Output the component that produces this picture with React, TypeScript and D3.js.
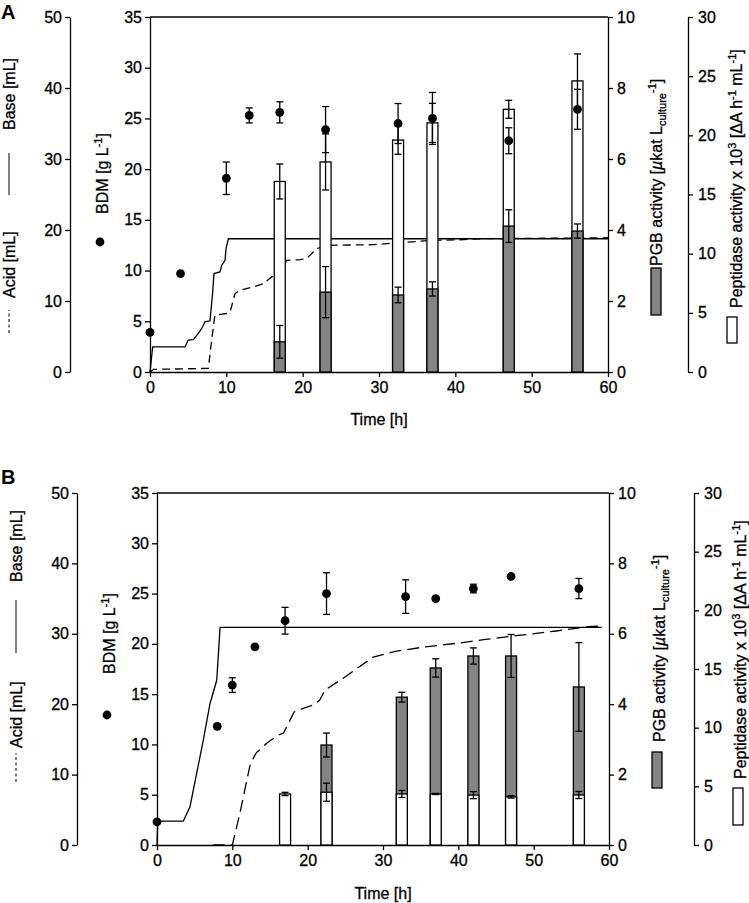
import { useEffect, useRef } from "react";
import * as d3 from "d3";

const FONT = "'Liberation Sans', Arial, Helvetica, sans-serif";
const FS = 16;

type Pt = [number, number];

const TIME_TICKS = [0, 10, 20, 30, 40, 50, 60];
const BDM_TICKS = [0, 5, 10, 15, 20, 25, 30, 35];
const ML_TICKS = [0, 10, 20, 30, 40, 50];
const PGB_TICKS = [0, 2, 4, 6, 8, 10];
const PEP_TICKS = [0, 5, 10, 15, 20, 25, 30];

// ---- Panel A ----
const A_BDM_TIME = [0, 4, 10, 13, 17, 23, 32.5, 37, 47, 56];
const A_BDM = [3.9, 9.7, 19.1, 25.3, 25.6, 23.9, 24.5, 25.0, 22.8, 25.9];
const A_BDM_SD = [0, 0, 1.6, 0.74, 1.04, 2.27, 1.97, 2.56, 1.28, 1.97];
const A_BAR_TIME = [17, 23, 32.5, 37, 47, 56];
const A_PGB = [0.85, 2.25, 2.17, 2.34, 4.11, 3.97];
const A_PGB_SD = [0.46, 0.72, 0.22, 0.2, 0.46, 0.2];
const A_PEP = [16.1, 17.75, 19.6, 21.05, 22.2, 24.6];
const A_PEP_SD = [1.48, 2.37, 1.2, 1.65, 0.76, 2.28];
const A_BASE: Pt[] = [
  [0, 0], [0.35, 3.55], [4.59, 3.55], [5.0, 4.5], [5.68, 4.57], [6.33, 5.43],
  [6.77, 6.13], [7.2, 7.07], [7.86, 7.21], [8.2, 11.05], [8.38, 13.86],
  [9.17, 14.09], [9.39, 15.03], [9.83, 15.73], [9.96, 17.37], [10.27, 18.77],
  [60, 18.77],
];
const A_ACID: Pt[] = [
  [0, 0], [0.44, 0.37], [7.64, 0.51], [8.08, 4.5], [8.5, 8.0], [10.0, 8.24],
  [10.5, 8.47], [11.14, 11.05], [11.8, 11.5], [13.5, 11.98], [14.85, 12.45],
  [15.94, 13.39], [17.03, 13.86], [17.9, 15.73], [19.65, 15.82], [20.5, 15.96],
  [21.84, 17.37], [23.15, 17.84], [29.3, 17.93], [31.9, 18.16], [37.1, 18.54],
  [40.6, 18.63], [43.7, 18.77], [60, 18.91],
];

// ---- Panel B ----
const B_BDM_TIME = [0, 8, 10, 13, 17, 22.5, 33, 37, 42, 47, 56];
const B_BDM = [2.3, 11.8, 15.9, 19.7, 22.3, 25.0, 24.7, 24.5, 25.5, 26.7, 25.5];
const B_BDM_SD = [0, 0, 0.73, 0, 1.33, 2.07, 1.67, 0, 0.43, 0, 1.0];
const B_BAR_TIME = [17, 22.5, 32.5, 37, 42, 47, 56];
const B_PGB = [0, 2.84, 4.2, 5.03, 5.37, 5.37, 4.49];
const B_PGB_SD = [0, 0.34, 0.14, 0.26, 0.23, 0.61, 1.26];
const B_PEP = [4.35, 4.5, 4.35, 4.35, 4.25, 4.1, 4.26];
const B_PEP_SD = [0.14, 0.77, 0.3, 0.05, 0.3, 0.1, 0.3];
const B_BASE: Pt[] = [
  [0, 0], [0.1, 3.4], [3.5, 3.4], [4.38, 5.44], [5.27, 10.2], [6.15, 14.9],
  [7.04, 20.1], [7.93, 23.4], [8.37, 30.9], [59.05, 30.9],
];
const B_ACID: Pt[] = [
  [7.4, 0], [10.0, 0], [11.0, 4.5], [12.4, 11.6], [13.2, 13.1], [14.6, 14.5],
  [16.1, 15.6], [16.8, 15.9], [18.2, 18.9], [19.4, 19.4], [20.8, 19.9],
  [21.6, 20.6], [22.3, 22.0], [25.0, 23.9], [28.7, 26.7], [31.6, 27.5],
  [35.3, 28.1], [40.2, 28.7], [43.6, 29.2], [48.3, 29.8], [53.0, 30.4],
  [57.2, 31.0], [59.05, 31.1],
];

const PANEL_A = {
  bdmTime: A_BDM_TIME, bdm: A_BDM, bdmSd: A_BDM_SD,
  barTime: A_BAR_TIME, pgb: A_PGB, pgbSd: A_PGB_SD, pep: A_PEP, pepSd: A_PEP_SD,
  base: A_BASE, acid: A_ACID,
};
const PANEL_B = {
  bdmTime: B_BDM_TIME, bdm: B_BDM, bdmSd: B_BDM_SD,
  barTime: B_BAR_TIME, pgb: B_PGB, pgbSd: B_PGB_SD, pep: B_PEP, pepSd: B_PEP_SD,
  base: B_BASE, acid: B_ACID,
};

const LAYOUT_A = {
  letter: "A", letterY: 19,
  left: 150, right: 608, top: 17, bottom: 372,
  mlAxisX: 70, pepAxisX: 688, timeY: 425, dash: "8,5",
  sideX: 15, acidStart: 298, acidKey: [333, 310], baseKey: [195, 153], baseStart: 130,
  bdmX: 108, bdmStart: 214, bdmDot: [100, 242],
  pgbX: 662, pgbStart: 266, pgbBox: [651, 268, 10, 47],
  pepX: 742, pepStart: 308, pepBox: [727, 317, 10, 26],
};
const LAYOUT_B = {
  letter: "B", letterY: 484,
  left: 157, right: 609, top: 493, bottom: 845,
  mlAxisX: 77, pepAxisX: 694, timeY: 899, dash: "12,6",
  sideX: 22, acidStart: 748, acidKey: [782, 753], baseKey: [653, 600], baseStart: 582,
  bdmX: 115, bdmStart: 674, bdmDot: [107, 715],
  pgbX: 665, pgbStart: 742, pgbBox: [652, 752, 10, 36],
  pepX: 746, pepStart: 779, pepBox: [733, 788, 10, 37],
};

const GRAY = "#848484";
const SW = 1.3;

type Seg = { t: string; sup?: boolean; sub?: boolean; it?: boolean };

// text gets a hairline stroke so it carries the weight of the printed labels
const inkText = (sel: any) => sel.attr("fill", "#000").attr("stroke", "#000").attr("stroke-width", 0.3);

// rotated label built from plain / sub / superscript pieces
function richLabel(g: any, x: number, y: number, segs: Seg[]) {
  const text = g
    .append("text")
    .attr("transform", `translate(${x},${y}) rotate(-90)`)
    .attr("text-anchor", "start")
    .attr("font-size", FS)
    .attr("font-family", FONT)
    .call(inkText);
  let shift = 0;
  segs.forEach((s) => {
    const target = s.sup ? -6.5 : s.sub ? 4 : 0;
    const ts = text.append("tspan").attr("dy", target - shift).text(s.t);
    if (s.sup || s.sub) ts.attr("font-size", 11);
    if (s.it) ts.attr("font-style", "italic");
    shift = target;
  });
}

function errBar(g: any, cx: number, y1: number, y2: number) {
  const cap = 3.5;
  g.append("line").attr("x1", cx).attr("x2", cx).attr("y1", y1).attr("y2", y2);
  g.append("line").attr("x1", cx - cap).attr("x2", cx + cap).attr("y1", y1).attr("y2", y1);
  g.append("line").attr("x1", cx - cap).attr("x2", cx + cap).attr("y1", y2).attr("y2", y2);
}

function drawPanel(svg: any, L: any, D: any) {
  const g = svg.append("g").attr("font-family", FONT);

  const x = d3.scaleLinear().domain([0, 60]).range([L.left, L.right]);
  const yBdm = d3.scaleLinear().domain([0, 35]).range([L.bottom, L.top]);
  const yMl = d3.scaleLinear().domain([0, 50]).range([L.bottom, L.top]);
  const yPgb = d3.scaleLinear().domain([0, 10]).range([L.bottom, L.top]);
  const yPep = d3.scaleLinear().domain([0, 30]).range([L.bottom, L.top]);

  const styleAxis = (sel: any) => {
    sel.attr("font-size", FS).attr("font-family", FONT);
    sel.selectAll("path,line").attr("stroke", "#000").attr("stroke-width", SW);
    sel.selectAll("text").call(inkText);
  };

  g.append("g")
    .attr("transform", `translate(0,${L.bottom})`)
    .call(d3.axisBottom(x).tickValues(TIME_TICKS).tickSize(5).tickSizeOuter(0).tickPadding(5))
    .call(styleAxis);
  g.append("g")
    .attr("transform", `translate(${L.left},0)`)
    .call(d3.axisLeft(yBdm).tickValues(BDM_TICKS).tickSize(5).tickSizeOuter(0).tickPadding(3))
    .call(styleAxis);
  g.append("g")
    .attr("transform", `translate(${L.mlAxisX},0)`)
    .call(d3.axisLeft(yMl).tickValues(ML_TICKS).tickSize(5).tickSizeOuter(0).tickPadding(3))
    .call(styleAxis);
  g.append("g")
    .attr("transform", `translate(${L.right},0)`)
    .call(d3.axisRight(yPgb).tickValues(PGB_TICKS).tickSize(5).tickSizeOuter(0).tickPadding(4))
    .call(styleAxis);
  g.append("g")
    .attr("transform", `translate(${L.pepAxisX},0)`)
    .call(d3.axisRight(yPep).tickValues(PEP_TICKS).tickSize(5).tickSizeOuter(0).tickPadding(5))
    .call(styleAxis);

  // top frame
  g.append("line")
    .attr("x1", L.left).attr("x2", L.right).attr("y1", L.top).attr("y2", L.top)
    .attr("stroke", "#000").attr("stroke-width", SW);

  // base / acid dosing curves
  const line = d3.line<Pt>().x((d) => x(d[0])).y((d) => yMl(d[1]));
  g.append("path").datum(D.base).attr("d", line)
    .attr("fill", "none").attr("stroke", "#000").attr("stroke-width", SW);
  g.append("path").datum(D.acid).attr("d", line)
    .attr("fill", "none").attr("stroke", "#000").attr("stroke-width", SW)
    .attr("stroke-dasharray", L.dash);

  // activity bars: taller one behind
  const bw = 11;
  const bars = g.append("g").attr("stroke", "#000").attr("stroke-width", SW);
  const errs = g.append("g").attr("stroke", "#000").attr("stroke-width", SW);
  D.barTime.forEach((t: number, i: number) => {
    const cx = x(t);
    const items = [
      { v: D.pep[i], sd: D.pepSd[i], y: yPep, fill: "#fff" },
      { v: D.pgb[i], sd: D.pgbSd[i], y: yPgb, fill: GRAY },
    ]
      .filter((d) => d.v > 0)
      .sort((a, b) => a.y(a.v) - b.y(b.v));
    items.forEach((d) => {
      bars.append("rect")
        .attr("x", cx - bw / 2).attr("width", bw)
        .attr("y", d.y(d.v)).attr("height", L.bottom - d.y(d.v))
        .attr("fill", d.fill);
    });
    items.forEach((d) => {
      if (d.sd > 0) errBar(errs, cx, d.y(d.v - d.sd), d.y(d.v + d.sd));
    });
  });

  // biomass dry matter
  const dots = g.append("g").attr("stroke", "#000").attr("stroke-width", SW);
  D.bdmTime.forEach((t: number, i: number) => {
    if (D.bdmSd[i] > 0) errBar(dots, x(t), yBdm(D.bdm[i] - D.bdmSd[i]), yBdm(D.bdm[i] + D.bdmSd[i]));
  });
  g.append("g").selectAll("circle").data(D.bdmTime).join("circle")
    .attr("cx", (t: number) => x(t))
    .attr("cy", (_: number, i: number) => yBdm(D.bdm[i]))
    .attr("r", 4.4).attr("fill", "#000");

  // titles
  g.append("text")
    .attr("x", (L.left + L.right) / 2).attr("y", L.timeY)
    .attr("text-anchor", "middle").attr("font-size", FS).call(inkText).text("Time [h]");
  g.append("text")
    .attr("x", 1).attr("y", L.letterY)
    .attr("font-size", 20).attr("font-weight", "bold").text(L.letter);

  richLabel(g, L.sideX, L.acidStart, [{ t: "Acid [mL]" }]);
  richLabel(g, L.sideX, L.baseStart, [{ t: "Base [mL]" }]);
  g.append("line")
    .attr("x1", L.sideX - 6).attr("x2", L.sideX - 6)
    .attr("y1", L.acidKey[0]).attr("y2", L.acidKey[1])
    .attr("stroke", "#000").attr("stroke-width", 1).attr("stroke-dasharray", "3,2.5");
  g.append("line")
    .attr("x1", L.sideX - 6).attr("x2", L.sideX - 6)
    .attr("y1", L.baseKey[0]).attr("y2", L.baseKey[1])
    .attr("stroke", "#000").attr("stroke-width", 1);

  richLabel(g, L.bdmX, L.bdmStart, [{ t: "BDM [g L" }, { t: "-1", sup: true }, { t: "]" }]);
  g.append("circle").attr("cx", L.bdmDot[0]).attr("cy", L.bdmDot[1]).attr("r", 4.4).attr("fill", "#000");

  richLabel(g, L.pgbX, L.pgbStart, [
    { t: "PGB activity [" },
    { t: "\u00b5", it: true },
    { t: "kat L" },
    { t: "culture", sub: true },
    { t: "-1", sup: true },
    { t: "]" },
  ]);
  g.append("rect")
    .attr("x", L.pgbBox[0]).attr("y", L.pgbBox[1]).attr("width", L.pgbBox[2]).attr("height", L.pgbBox[3])
    .attr("fill", GRAY).attr("stroke", "#000").attr("stroke-width", SW);

  richLabel(g, L.pepX, L.pepStart, [
    { t: "Peptidase activity x 10" },
    { t: "3", sup: true },
    { t: " [\u0394A h" },
    { t: "-1", sup: true },
    { t: " mL" },
    { t: "-1", sup: true },
    { t: "]" },
  ]);
  g.append("rect")
    .attr("x", L.pepBox[0]).attr("y", L.pepBox[1]).attr("width", L.pepBox[2]).attr("height", L.pepBox[3])
    .attr("fill", "#fff").attr("stroke", "#000").attr("stroke-width", SW);
}

export default function App() {
  const ref = useRef<SVGSVGElement>(null);

  useEffect(() => {
    const svg = d3.select(ref.current);
    svg.selectAll("*").remove();
    drawPanel(svg, LAYOUT_A, PANEL_A);
    drawPanel(svg, LAYOUT_B, PANEL_B);
  }, []);

  return (
    <svg
      ref={ref}
      width={749}
      height={903}
      style={{ position: "absolute", left: 0, top: 0, background: "#fff" }}
    />
  );
}
